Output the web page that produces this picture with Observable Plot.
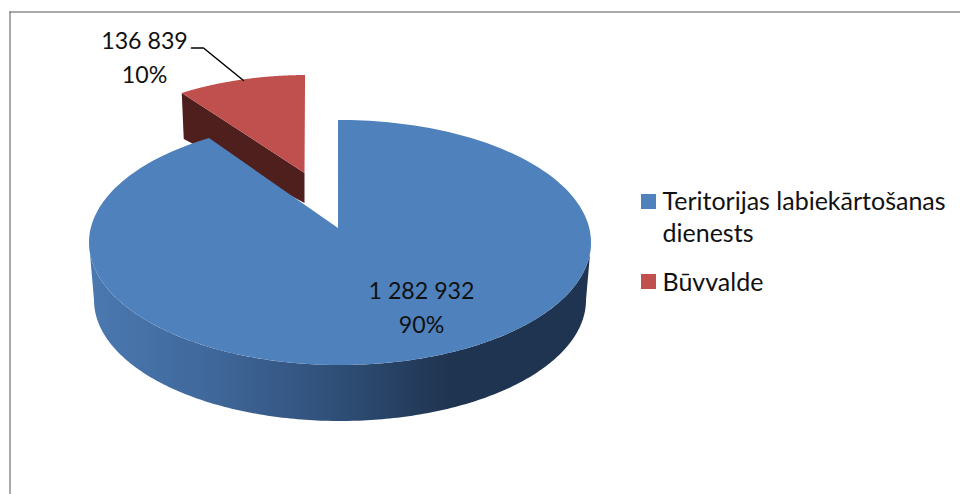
<!DOCTYPE html>
<html>
<head>
<meta charset="utf-8">
<script src="https://cdn.jsdelivr.net/npm/d3@7"></script>
<script src="https://cdn.jsdelivr.net/npm/@observablehq/plot@0.6"></script>
<style>html,body{margin:0;padding:0;background:#fff}svg{display:block}</style>
</head>
<body>
<div id="chart"></div>
<script>
const categories = ["Teritorijas labiekārtošanas dienests", "Būvvalde"];
const values = [1282932, 136839];
const valueLabels = ["1 282 932", "136 839"];
const percentLabels = ["90%", "10%"];
const legendLines = [["Teritorijas labiekārtošanas", "dienests"], ["Būvvalde"]];
const topColors = ["#4f81bd", "#c0504d"];

const FONT = "Lato, Carlito, sans-serif";
const W = 960, H = 494;
const rad = Math.PI / 180;
const total = d3.sum(values);
const redSweep = values[1] / total * 360;

// 3-D projection of the pie
const skew = t => t - 6.5 * Math.sin(t * rad) - 0.46;
const pt = (e, deg) => {
  const t = skew(deg) * rad;
  return [e.cx + e.rx * Math.sin(t), e.cy - e.ry * Math.cos(t)];
};
const range = (a, b, n = 200) => d3.range(n + 1).map(i => a + (b - a) * i / n);

const blueTop = {cx: 340, cy: 242.5, rx: 251, ry: 122.5, ax: 338, ay: 228};
const blueLow = {cx: 340, cy: 300, rx: 246, ry: 121};
const redTop = {cx: 307, cy: 197, rx: 240, ry: 122, ax: 304.5, ay: 173};

const fan = (e, a, b) => range(a, b).map(d => {
  const [x, y] = pt(e, d);
  return {x1: e.ax, y1: e.ay, x2: x, y2: y};
});

const blueFan = fan(blueTop, 0, 360 - redSweep);
const redFan = fan(redTop, -redSweep, 0);

// Lower rim: between upper and lower ellipse across the front half
const rim = range(90, 270).map(d => {
  const a = d * rad;
  return {
    x1: blueTop.cx + blueTop.rx * Math.sin(a), y1: blueTop.cy - blueTop.ry * Math.cos(a),
    x2: blueLow.cx + blueLow.rx * Math.sin(a), y2: blueLow.cy - blueLow.ry * Math.cos(a)
  };
});

// Inner cut face of the exploded red slice
const redL = pt(redTop, -redSweep);
const redWall = [
  {x1: redL[0], y1: redL[1], x2: redL[0] + 2, y2: redL[1] + 46},
  {x1: redTop.ax, y1: redTop.ay, x2: redTop.ax, y2: redTop.ay + 30}
];

const defs = () => {
  const ns = "http://www.w3.org/2000/svg";
  const d = document.createElementNS(ns, "defs");
  const g = document.createElementNS(ns, "linearGradient");
  g.setAttribute("id", "rimGrad");
  [[0, "#4a79b0"], [0.25, "#3f679a"], [0.5, "#2f4e76"], [0.72, "#1f3450"], [1, "#1f3450"]].forEach(([o, c]) => {
    const s = document.createElementNS(ns, "stop");
    s.setAttribute("offset", o);
    s.setAttribute("stop-color", c);
    g.appendChild(s);
  });
  d.appendChild(g);
  return d;
};

const label = (text, x, y, extra = {}) =>
  Plot.text([text], {x: () => x, y: () => y, text: d => d, fontSize: 23.2, fontFamily: FONT, fill: "#111", ...extra});
const legendText = (text, y) => label(text, 662, y, {textAnchor: "start", fontSize: 25});

const plot = Plot.plot({
  width: W, height: H,
  margin: 0,
  style: {background: "#fff", overflow: "hidden"},
  x: {domain: [0, W], range: [0, W], axis: null},
  y: {domain: [0, H], range: [0, H], axis: null},
  marks: [
    defs,
    Plot.ruleY([11.5], {x1: 9, x2: 960, stroke: "#8c8c8c", strokeWidth: 1.5}),
    Plot.ruleX([9.5], {y1: 11.5, y2: 494, stroke: "#8c8c8c", strokeWidth: 1.5}),
    Plot.area(redWall, {x1: "x1", y1: "y1", x2: "x2", y2: "y2", fill: "#4f1f1e"}),
    Plot.area(redFan, {x1: "x1", y1: "y1", x2: "x2", y2: "y2", fill: topColors[1]}),
    Plot.area(rim, {x1: "x1", y1: "y1", x2: "x2", y2: "y2", fill: "url(#rimGrad)"}),
    Plot.area(blueFan, {x1: "x1", y1: "y1", x2: "x2", y2: "y2", fill: topColors[0]}),
    Plot.line([[191, 47.5], [203, 47.5], [243, 80]], {x: d => d[0], y: d => d[1], stroke: "#000", strokeWidth: 1.5}),
    label(valueLabels[1], 144, 41),
    label(percentLabels[1], 144, 75),
    label(valueLabels[0], 421, 291),
    label(percentLabels[0], 421, 325),
    Plot.rect([0], {x1: () => 641, x2: () => 656, y1: () => 194, y2: () => 209, fill: topColors[0]}),
    Plot.rect([0], {x1: () => 641, x2: () => 656, y1: () => 274, y2: () => 289, fill: topColors[1]}),
    legendText(legendLines[0][0], 201),
    legendText(legendLines[0][1], 233),
    legendText(legendLines[1][0], 282)
  ]
});
document.getElementById("chart").appendChild(plot);
</script>
</body>
</html>
